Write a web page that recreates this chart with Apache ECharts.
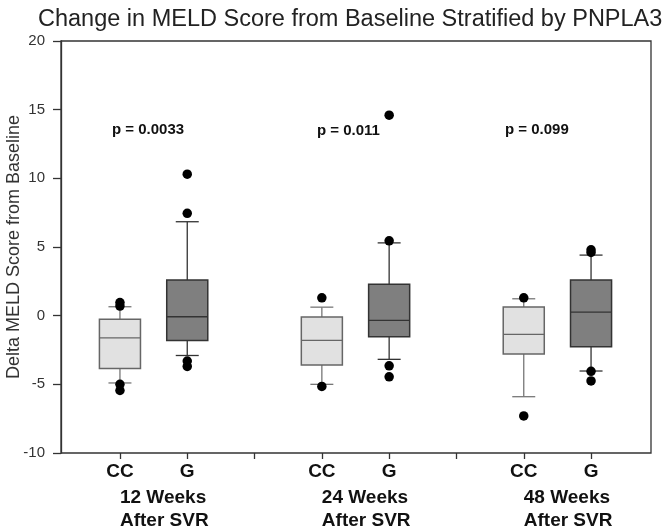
<!DOCTYPE html>
<html>
<head>
<meta charset="utf-8">
<script src="https://cdn.jsdelivr.net/npm/echarts@6/dist/echarts.min.js"></script>
<style>
  html, body { margin: 0; padding: 0; background: #fff; }
  #chart { width: 671px; height: 532px; }
</style>
</head>
<body>
<div id="chart"></div>
<script>
// genotype slots along the x axis ('' = gap between time points)
var categories = ['CC', 'G', '', 'CC', 'G', '', 'CC', 'G'];
var groupLabels = ['12 Weeks\nAfter SVR', '', '', '24 Weeks\nAfter SVR', '', '', '48 Weeks\nAfter SVR', ''];

// box statistics, one entry per box
var boxSlot = [0, 1, 3, 4, 6, 7];
var whiskerLow = [-4.9, -2.9, -5.0, -3.18, -5.9, -4.03];
var quartile1 = [-3.84, -1.8, -3.6, -1.54, -2.8, -2.27];
var median = [-1.61, -0.08, -1.8, -0.34, -1.36, 0.26];
var quartile3 = [-0.27, 2.59, -0.1, 2.28, 0.63, 2.59];
var whiskerHigh = [0.65, 6.84, 0.62, 5.3, 1.23, 4.41];

// outlying points: slot index and value
var outlierSlot = [0, 0, 0, 0, 1, 1, 1, 1, 3, 3, 4, 4, 4, 4, 6, 6, 7, 7, 7, 7];
var outlierValue = [0.95, 0.7, -5.0, -5.45, 10.3, 7.45, -3.3, -3.7, 1.3, -5.15,
  14.6, 5.45, -3.65, -4.45, 1.3, -7.3, 4.8, 4.6, -4.05, -4.75];

var pLabels = ['p = 0.0033', 'p = 0.011', 'p = 0.099'];

var yTicks = [-10, -5, 0, 5, 10, 15, 20];

var boxData = boxSlot.map(function (s, i) {
  return [s, whiskerLow[i], quartile1[i], median[i], quartile3[i], whiskerHigh[i]];
});
var outlierData = outlierSlot.map(function (s, i) {
  return [s, outlierValue[i]];
});

function renderBox(params, api) {
  var slot = api.value(0);
  var lo = api.coord([slot, api.value(1)]);
  var q1 = api.coord([slot, api.value(2)]);
  var md = api.coord([slot, api.value(3)]);
  var q3 = api.coord([slot, api.value(4)]);
  var hi = api.coord([slot, api.value(5)]);
  var band = api.size([1, 0])[0];
  var w = band * 0.61;
  var cap = w * 0.56;
  var x = lo[0];
  var isCC = categories[slot] === 'CC';
  var fill = isCC ? '#e1e1e1' : '#7f7f7f';
  var edge = isCC ? '#666' : '#333';
  var wk = isCC ? '#777' : '#333';
  function seg(x1, y1, x2, y2, c) {
    return { type: 'line', shape: { x1: x1, y1: y1, x2: x2, y2: y2 },
      style: { stroke: c, lineWidth: 1.3 } };
  }
  return {
    type: 'group',
    children: [
      seg(x, hi[1], x, q3[1], wk),
      seg(x, q1[1], x, lo[1], wk),
      seg(x - cap / 2, hi[1], x + cap / 2, hi[1], wk),
      seg(x - cap / 2, lo[1], x + cap / 2, lo[1], wk),
      { type: 'rect', shape: { x: x - w / 2, y: q3[1], width: w, height: q1[1] - q3[1] },
        style: { fill: fill, stroke: edge, lineWidth: 1.5 } },
      seg(x - w / 2, md[1], x + w / 2, md[1], edge)
    ]
  };
}

var graph = echarts.init(document.getElementById('chart'));

var labelFont = { color: '#111', fontFamily: 'Liberation Sans', fontWeight: 'bold', fontSize: 19 };

var option = {
  animation: false,
  title: {
    text: 'Change in MELD Score from Baseline Stratified by PNPLA3',
    left: 33,
    top: 3,
    textStyle: { fontFamily: 'Liberation Sans', fontSize: 23.5, fontWeight: 'normal', color: '#222' }
  },
  grid: [
    { left: 86.3, right: 46.3, top: 41, bottom: 79, outerBoundsMode: 'none' },
    { left: 61, right: 20, top: 41, bottom: 79, outerBoundsMode: 'none',
      show: true, borderColor: '#333', borderWidth: 1.3 }
  ],
  xAxis: [
    {
      type: 'category', gridIndex: 0, data: categories, position: 'bottom',
      axisLine: { show: false, onZero: false },
      axisTick: { show: true, alignWithLabel: true, length: 6, lineStyle: { color: '#333', width: 1.3 } },
      axisLabel: Object.assign({ interval: 0, margin: 9 }, labelFont)
    },
    {
      type: 'category', gridIndex: 0, data: groupLabels, position: 'bottom', offset: 0,
      axisLine: { show: false, onZero: false }, axisTick: { show: false },
      axisLabel: Object.assign({ interval: 0, margin: 33, align: 'left', lineHeight: 23 }, labelFont)
    },
    { type: 'value', gridIndex: 1, show: false }
  ],
  yAxis: [
    { type: 'value', gridIndex: 0, min: -10, max: 20, show: false },
    {
      type: 'value', gridIndex: 1, min: -10, max: 20, interval: 5,
      name: 'Delta MELD Score from Baseline', nameLocation: 'middle', nameGap: 38,
      nameMoveOverlap: false,
      nameTextStyle: { fontFamily: 'Liberation Sans', fontSize: 18, color: '#333' },
      splitLine: { show: false },
      axisLine: { show: true, lineStyle: { color: '#333', width: 1.3 } },
      axisTick: { show: true, length: 8, lineStyle: { color: '#333', width: 1.3 } },
      axisLabel: { margin: 16, fontFamily: 'Liberation Sans', fontSize: 15, color: '#333',
        formatter: function (v) { return yTicks.indexOf(v) >= 0 ? String(v) : ''; } }
    }
  ],
  graphic: [
    { type: 'text', left: 112, top: 122, style: { text: pLabels[0], font: 'bold 15px "Liberation Sans"', fill: '#111' } },
    { type: 'text', left: 317, top: 123, style: { text: pLabels[1], font: 'bold 15px "Liberation Sans"', fill: '#111' } },
    { type: 'text', left: 505, top: 122, style: { text: pLabels[2], font: 'bold 15px "Liberation Sans"', fill: '#111' } }
  ],
  series: [
    {
      type: 'custom', xAxisIndex: 0, yAxisIndex: 0,
      renderItem: renderBox,
      encode: { x: 0, y: [1, 2, 3, 4, 5] },
      data: boxData
    },
    {
      type: 'scatter', xAxisIndex: 0, yAxisIndex: 0,
      symbolSize: 9.5,
      itemStyle: { color: '#000', opacity: 1 },
      data: outlierData
    }
  ]
};

graph.setOption(option);
</script>
</body>
</html>
